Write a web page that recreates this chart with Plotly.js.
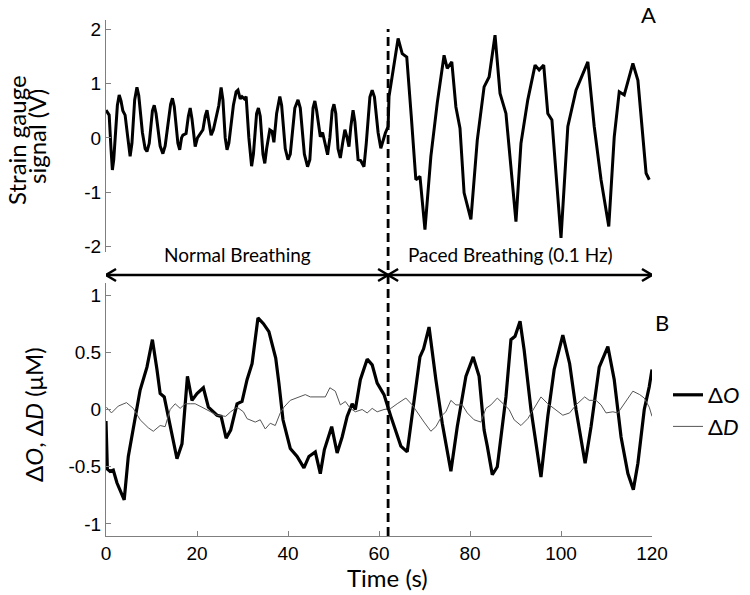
<!DOCTYPE html>
<html>
<head>
<meta charset="utf-8">
<script src="https://cdn.plot.ly/plotly-3.0.1.min.js"></script>
<style>html,body{margin:0;padding:0;background:#fff;}#chart{width:750px;height:595px;}</style>
</head>
<body>
<div id="chart"></div>
<script>
// ---- Panel A: strain gauge signal (V) ----
var strainTime = [0,0.7,1.1,1.4,1.7,2.0,2.5,2.9,3.3,3.7,4.2,4.8,5.3,5.7,6.3,6.8,7.2,8.0,8.6,9.0,9.5,10.2,10.6,11.0,11.9,12.5,13.0,14.2,14.6,15.0,15.8,16.2,16.6,16.9,17.6,18.1,18.5,18.9,19.6,20.1,20.7,21.3,21.8,22.2,22.6,23.1,23.6,24.2,24.8,25.3,25.7,26.2,26.6,27.0,28.0,28.6,29.0,29.5,29.9,30.4,30.8,31.4,32.0,32.4,33.1,33.5,33.9,34.5,34.9,35.3,36.0,36.5,36.9,37.5,38.2,38.6,39.4,40.0,40.5,41.5,42.2,42.7,43.6,44.3,44.8,45.5,45.9,46.3,47.1,47.6,48.1,48.7,49.2,49.7,50.1,50.5,51.0,51.5,52.0,52.5,53.0,53.4,53.8,54.3,54.7,55.4,56.0,56.7,57.2,58.0,58.5,59.0,59.8,60.4,61.4,62.0,62.2,63.3,64.2,65.1,66.1,67.1,68.1,69.0,70.1,71.4,72.8,74.3,75.0,76.0,76.9,77.8,78.7,80.2,81.6,83.1,84.2,85.5,86.6,87.9,90.1,91.2,92.7,94.3,95.2,96.2,97.1,98.0,100.0,101.5,103.3,105.9,107.3,108.8,110.5,111.7,112.8,113.9,115.8,116.9,118.0,118.7,119.4];
var strainV = [0.51,0.42,-0.2,-0.59,-0.4,-0.04,0.6,0.79,0.68,0.5,0.42,0.0,-0.34,-0.1,0.7,0.93,0.78,0.1,-0.2,-0.25,-0.1,0.5,0.6,0.45,-0.15,-0.29,-0.15,0.62,0.73,0.58,-0.1,-0.22,0.0,0.05,0.08,0.4,0.55,0.35,-0.16,0.0,0.08,0.15,0.4,0.51,0.3,0.05,0.15,0.36,0.6,0.93,0.7,0.0,-0.22,-0.1,0.6,0.85,0.88,0.72,0.76,0.72,0.76,0.0,-0.52,-0.3,0.45,0.55,0.4,-0.3,-0.47,-0.2,0.15,0.12,-0.08,0.45,0.76,0.6,-0.2,-0.4,-0.3,0.55,0.7,0.55,-0.3,-0.53,-0.4,0.55,0.68,0.5,0.02,0.1,-0.1,-0.31,0.0,0.5,0.62,0.45,-0.2,-0.37,-0.1,0.15,0.0,-0.16,0.2,0.51,0.3,-0.4,-0.42,-0.53,-0.1,0.75,0.88,0.75,0.1,-0.19,0.09,0.21,0.76,1.37,1.83,1.55,1.49,0.39,-0.77,-0.71,-1.69,-0.34,0.64,1.52,1.28,1.4,0.57,0.18,-1.01,-1.5,-0.04,0.94,1.12,1.89,0.82,0.45,-1.54,-0.1,0.7,1.34,1.25,1.34,0.45,0.33,-1.84,0.21,0.88,1.4,0.21,-0.77,-1.63,0.02,0.85,0.79,1.37,1.06,0.09,-0.65,-0.77];

// ---- Panel B: oxygenation / deoxygenation (uM) ----
var oTime = [0,0.3,0.9,1.6,2.4,4.0,4.9,6.4,7.5,9.0,10.2,11.2,11.9,12.8,14.1,15.6,16.7,17.4,17.9,18.9,20.0,21.4,22.5,24.4,25.3,26.4,27.4,28.8,29.9,31.0,32.1,33.4,34.6,35.8,37.3,38.0,38.9,40.5,42.0,43.5,44.6,46.0,47.1,48.0,49.6,50.8,51.9,53.0,54.1,54.8,55.9,57.4,58.5,59.6,61.1,62.6,64.0,64.8,66.2,67.7,69.0,69.8,71.0,72.5,73.9,75.8,77.2,79.1,80.7,82.0,83.1,83.8,84.9,86.0,87.9,89.0,89.9,91.0,91.9,93.4,95.6,97.1,98.5,100.4,101.9,103.3,105.3,106.6,108.4,110.3,111.7,113.2,114.7,115.9,116.9,118.3,119.4,120];
var deltaO = [-0.1,-0.52,-0.54,-0.53,-0.64,-0.79,-0.41,-0.06,0.17,0.37,0.61,0.35,0.14,0.11,-0.15,-0.43,-0.3,0.05,0.29,0.08,0.14,0.19,0.02,-0.05,-0.06,-0.25,-0.18,0.05,0.07,0.26,0.4,0.8,0.75,0.68,0.45,0.23,-0.09,-0.34,-0.41,-0.51,-0.41,-0.37,-0.56,-0.35,-0.15,-0.38,-0.24,-0.06,0.05,0.0,0.26,0.44,0.39,0.23,0.13,-0.06,-0.24,-0.32,-0.37,0.05,0.46,0.53,0.72,0.26,-0.12,-0.54,-0.15,0.29,0.46,0.29,-0.18,-0.32,-0.57,-0.5,0.11,0.61,0.64,0.77,0.52,0.0,-0.59,-0.06,0.35,0.65,0.4,0.0,-0.47,-0.15,0.37,0.55,0.26,-0.24,-0.56,-0.7,-0.47,0.0,0.2,0.35];
var dTime = [0.1,1.2,2.7,4.5,6.0,7.5,9.3,10.4,11.9,13.0,14.1,15.2,16.3,17.4,18.5,19.6,21.1,22.9,24.4,26.3,27.4,28.8,30.2,31.0,32.8,33.9,35.0,36.1,37.2,38.3,39.1,40.5,42.0,43.8,44.9,46.4,48.2,49.2,50.4,51.5,52.6,53.7,54.8,56.3,57.4,58.5,59.6,61.1,62.6,64.0,65.9,67.3,68.8,69.9,71.4,72.5,73.9,74.7,75.8,76.9,78.3,79.4,80.9,82.4,83.5,84.6,86.0,87.2,88.6,89.7,91.2,92.7,94.1,95.6,97.1,98.5,100.4,101.9,103.3,105.2,106.2,107.7,108.8,109.9,111.4,112.5,113.9,115.8,117.3,118.3,119.4,120];
var deltaD = [0.02,-0.03,0.03,0.06,0.01,-0.09,-0.16,-0.19,-0.14,-0.15,0.0,0.05,0.01,0.05,0.05,0.05,0.02,-0.02,-0.05,-0.06,-0.02,0.02,-0.02,-0.08,-0.11,-0.09,-0.17,-0.12,-0.14,-0.03,0.02,0.08,0.1,0.13,0.11,0.11,0.11,0.19,0.16,0.04,0.07,0.01,-0.02,0.0,-0.03,0.01,-0.02,0.0,0.01,0.05,0.1,0.04,-0.05,-0.11,-0.19,-0.15,-0.05,-0.02,0.08,0.04,0.04,-0.03,-0.09,-0.11,0.01,0.04,0.1,0.05,0.0,-0.09,-0.14,-0.08,0.01,0.11,0.05,0.01,-0.05,-0.03,0.04,0.11,0.08,0.08,0.04,-0.03,-0.02,-0.03,0.05,0.16,0.13,0.1,0.02,-0.06];

// ---- phases ----
var phaseStart = [0, 62];
var phaseEnd = [62, 120];
var phaseLabels = ['Normal Breathing', 'Paced Breathing (0.1 Hz)'];
var switchTime = 62;

var xTicks = [0,20,40,60,80,100,120];
var yTicksA = [-2,-1,0,1,2];
var yTicksB = [-1,-0.5,0,0.5,1];

var tickFont = {family: 'Liberation Sans, Arial, sans-serif', size: 19, color: '#000'};
var textFont = 'Lato, "Open Sans", sans-serif';
var axisColor = '#7f7f7f';

var traces = [
  {x: strainTime, y: strainV, xaxis: 'x', yaxis: 'y', mode: 'lines', line: {color: '#000', width: 3}, showlegend: false, hoverinfo: 'skip'},
  {x: oTime, y: deltaO, xaxis: 'x2', yaxis: 'y2', mode: 'lines', name: '\u0394<i>O</i>', line: {color: '#000', width: 3.2}},
  {x: dTime, y: deltaD, xaxis: 'x2', yaxis: 'y2', mode: 'lines', name: '\u0394<i>D</i>', line: {color: '#555', width: 1}}
];

var W = 750, H = 595, ML = 106, MR = 98, MT = 20, MB = 59;
var PW = W - ML - MR, PH = H - MT - MB;
function px(xp) { return (xp - ML) / PW; }
function py(yp) { return (H - MB - yp) / PH; }

var shapes = [];
var annotations = [];
shapes.push({type: 'line', xref: 'x2', yref: 'paper', x0: switchTime, x1: switchTime, y0: 0, y1: py(29), line: {color: '#000', width: 2.8, dash: '9px,5px'}});
var arrowY = py(275);
var hx = 2.2, hy = 6 / PH;
for (var i = 0; i < phaseStart.length; i++) {
  var a = phaseStart[i], b = phaseEnd[i];
  shapes.push({type: 'line', xref: 'x2', yref: 'paper', x0: a, x1: b, y0: arrowY, y1: arrowY, line: {color: '#000', width: 2.5}});
  shapes.push({type: 'path', xref: 'x2', yref: 'paper', path: 'M' + (a + hx) + ',' + (arrowY + hy) + ' L' + a + ',' + arrowY + ' L' + (a + hx) + ',' + (arrowY - hy), line: {color: '#000', width: 2.5}});
  shapes.push({type: 'path', xref: 'x2', yref: 'paper', path: 'M' + (b - hx) + ',' + (arrowY + hy) + ' L' + b + ',' + arrowY + ' L' + (b - hx) + ',' + (arrowY - hy), line: {color: '#000', width: 2.5}});
  annotations.push({xref: 'x2', yref: 'paper', x: (a + b) / 2 - 2, y: py(254), text: phaseLabels[i], showarrow: false, xanchor: 'center', yanchor: 'middle', font: {family: textFont, size: 19, color: '#000'}});
}
annotations.push({xref: 'paper', yref: 'paper', x: px(648), y: py(15), text: 'A', showarrow: false, xanchor: 'center', yanchor: 'middle', font: {family: textFont, size: 22, color: '#000'}});
annotations.push({xref: 'paper', yref: 'paper', x: px(662), y: py(323), text: 'B', showarrow: false, xanchor: 'center', yanchor: 'middle', font: {family: textFont, size: 22, color: '#000'}});
annotations.push({xref: 'paper', yref: 'paper', x: px(16), y: py(140), text: 'Strain gauge', textangle: -90, showarrow: false, xanchor: 'center', yanchor: 'middle', font: {family: textFont, size: 24, color: '#000'}});
annotations.push({xref: 'paper', yref: 'paper', x: px(37), y: py(137), text: 'signal (V)', textangle: -90, showarrow: false, xanchor: 'center', yanchor: 'middle', font: {family: textFont, size: 24, color: '#000'}});
annotations.push({xref: 'paper', yref: 'paper', x: px(33), y: py(415), text: '\u0394<i>O</i>, \u0394<i>D</i> (\u03bcM)', textangle: -90, showarrow: false, xanchor: 'center', yanchor: 'middle', font: {family: textFont, size: 24, color: '#000'}});
annotations.push({xref: 'paper', yref: 'paper', x: px(387), y: py(577), text: 'Time (s)', showarrow: false, xanchor: 'center', yanchor: 'middle', font: {family: textFont, size: 24, color: '#000'}});

var layout = {
  width: W, height: H,
  margin: {l: ML, r: MR, t: MT, b: MB, autoexpand: false},
  paper_bgcolor: '#fff', plot_bgcolor: '#fff',
  showlegend: true,
  legend: {x: px(668), y: py(374), xanchor: 'left', yanchor: 'top', bgcolor: 'rgba(0,0,0,0)', font: {family: textFont, size: 22, color: '#000'}, tracegroupgap: 0},
  xaxis: {domain: [0, 1], range: [0, 120], anchor: 'y', showline: false, showticklabels: false, ticks: '', showgrid: false, zeroline: false, matches: 'x2'},
  yaxis: {domain: [py(252), 1], range: [-2.1, 2.17], anchor: 'x', tickvals: yTicksA, ticktext: yTicksA.map(String), showline: true, linecolor: axisColor, linewidth: 1, ticks: 'inside', ticklen: 5, tickcolor: axisColor, showgrid: false, zeroline: false, tickfont: tickFont},
  xaxis2: {domain: [0, 1], range: [0, 120], anchor: 'y2', tickvals: xTicks, ticktext: xTicks.map(String), showline: true, linecolor: axisColor, linewidth: 1, ticks: 'inside', ticklen: 5, tickcolor: axisColor, showgrid: false, zeroline: false, tickfont: tickFont},
  yaxis2: {domain: [0, py(283)], range: [-1.105, 1.105], anchor: 'x2', tickvals: yTicksB, ticktext: yTicksB.map(String), showline: true, linecolor: axisColor, linewidth: 1, ticks: 'inside', ticklen: 5, tickcolor: axisColor, showgrid: false, zeroline: false, tickfont: tickFont},
  shapes: shapes,
  annotations: annotations
};

Plotly.newPlot('chart', traces, layout, {displayModeBar: false, staticPlot: true});
</script>
</body>
</html>
